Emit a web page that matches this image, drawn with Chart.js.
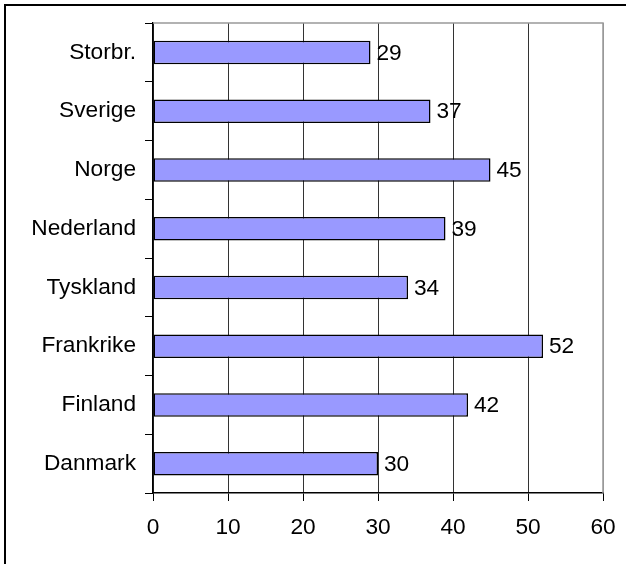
<!DOCTYPE html>
<html>
<head>
<meta charset="utf-8">
<script src="https://cdn.jsdelivr.net/npm/chart.js@4"></script>
<style>
  html, body { margin: 0; padding: 0; background: #fff; }
  #wrap { width: 626px; height: 564px; }
</style>
</head>
<body>
<div id="wrap"><canvas id="myChart" width="626" height="564"></canvas></div>
<script>
'use strict'

// data, top to bottom
const countries = ['Storbr.', 'Sverige', 'Norge', 'Nederland', 'Tyskland', 'Frankrike', 'Finland', 'Danmark'];
const values = [29, 37, 45, 39, 34, 52, 42, 30];
const xTicks = [0, 10, 20, 30, 40, 50, 60];

const FONT = '"Liberation Sans", Arial, sans-serif';
const FSIZE = 22.7;

// outer frame + plot area top/right edge
const framePlugin = {
  id: 'frame',
  beforeDraw(chart) {
    const ctx = chart.ctx;
    ctx.save();
    ctx.strokeStyle = '#000';
    ctx.lineWidth = 2;
    ctx.strokeRect(5, 5, 700, 700);
    ctx.restore();
  },
  afterDatasetsDraw(chart) {
    const ctx = chart.ctx;
    const a = chart.chartArea;
    ctx.save();
    ctx.strokeStyle = '#999';
    ctx.lineWidth = 1.5;
    ctx.beginPath();
    ctx.moveTo(a.left, a.top);
    ctx.lineTo(a.right, a.top);
    ctx.lineTo(a.right, a.bottom);
    ctx.stroke();
    ctx.restore();
  }
};

// value labels right of the bars
const labelPlugin = {
  id: 'valueLabels',
  afterDatasetsDraw(chart) {
    const ctx = chart.ctx;
    const meta = chart.getDatasetMeta(0);
    ctx.save();
    ctx.font = FSIZE + 'px ' + FONT;
    ctx.fillStyle = '#000';
    ctx.textAlign = 'left';
    ctx.textBaseline = 'middle';
    meta.data.forEach((bar, i) => {
      ctx.fillText(values[i], bar.x + 6, bar.y + 1);
    });
    ctx.restore();
  }
};

new Chart(document.getElementById('myChart'), {
  type: 'bar',
  data: {
    labels: countries,
    datasets: [{
      data: values,
      backgroundColor: '#9999FF',
      borderColor: '#000',
      borderWidth: 1.5,
      borderSkipped: false,
      barPercentage: 0.4,
      categoryPercentage: 1.0
    }]
  },
  options: {
    indexAxis: 'y',
    responsive: false,
    animation: false,
    devicePixelRatio: 1,
    layout: { padding: { top: 23, right: 23, left: 0, bottom: 0 } },
    plugins: { legend: { display: false }, tooltip: { enabled: false } },
    scales: {
      x: {
        min: 0,
        max: 60,
        afterBuildTicks(scale) { scale.ticks = xTicks.map(v => ({ value: v })); },
        afterFit(scale) { scale.height = 71; scale.paddingRight = 0; },
        grid: {
          color: ctx => (ctx.index === 6 ? '#999' : '#333'),
          lineWidth: 1,
          tickLength: 8,
          tickColor: '#000'
        },
        border: { color: '#000', width: 1.5 },
        ticks: { color: '#000', font: { family: FONT, size: FSIZE }, padding: 13 }
      },
      y: {
        afterFit(scale) { scale.width = 153; },
        grid: {
          offset: true,
          drawOnChartArea: false,
          tickLength: 8,
          color: '#000'
        },
        border: { color: '#000', width: 1.5 },
        ticks: { color: '#000', font: { family: FONT, size: FSIZE }, padding: 9 }
      }
    }
  },
  plugins: [framePlugin, labelPlugin]
});
</script>
</body>
</html>
